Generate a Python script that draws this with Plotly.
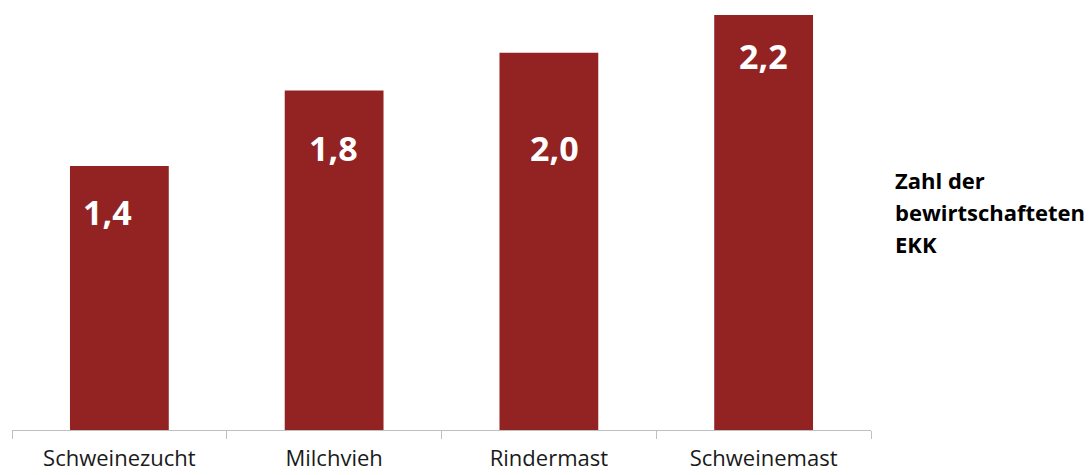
import plotly.graph_objects as go

categories = ["Schweinezucht", "Milchvieh", "Rindermast", "Schweinemast"]
values = [1.4, 1.8, 2.0, 2.2]
value_labels = ["1,4", "1,8", "2,0", "2,2"]
label_y = [1.156, 1.495, 1.495, 1.983]
label_xshift = [-12, -1, 6, 0]
legend_lines = ["Zahl der", "bewirtschafteten", "EKK"]
legend_y = [0.602, 0.525, 0.448]

FONT = "Open Sans"
BAR = "#922322"

fig = go.Figure()
fig.add_trace(go.Bar(x=categories, y=values, marker=dict(color=BAR, line=dict(width=0)),
                     hoverinfo="skip", showlegend=False))

for c, t, y, xs in zip(categories, value_labels, label_y, label_xshift):
    fig.add_annotation(x=c, y=y, text=f"<b>{t}</b>", showarrow=False, xshift=xs,
                       yanchor="middle",
                       font=dict(family=FONT, size=34, color="white"))

for line, y in zip(legend_lines, legend_y):
    fig.add_annotation(xref="paper", yref="paper", x=1.0256, y=y, xanchor="left", yanchor="middle",
                       text=f"<b>{line}</b>", showarrow=False, align="left",
                       font=dict(family=FONT, size=22, color="black"))

fig.update_layout(
    width=1089, height=475,
    margin=dict(l=12, r=218, t=15, b=45, autoexpand=False),
    paper_bgcolor="white", plot_bgcolor="white",
    bargap=0.54,
    xaxis=dict(showline=True, linecolor="#bfbfbf", linewidth=1, ticks="outside", tickson="boundaries",
               ticklen=8, tickcolor="#bfbfbf", tickfont=dict(family=FONT, size=22, color="#1a1a1a"),
               ticklabelstandoff=9, automargin=False,
               showgrid=False, zeroline=False),
    yaxis=dict(visible=False, range=[0, 2.2], showgrid=False, zeroline=False),
)
fig.write_html("out.html", config={"displayModeBar": False},
               post_script="document.body.style.margin='0';document.body.style.padding='0';")
